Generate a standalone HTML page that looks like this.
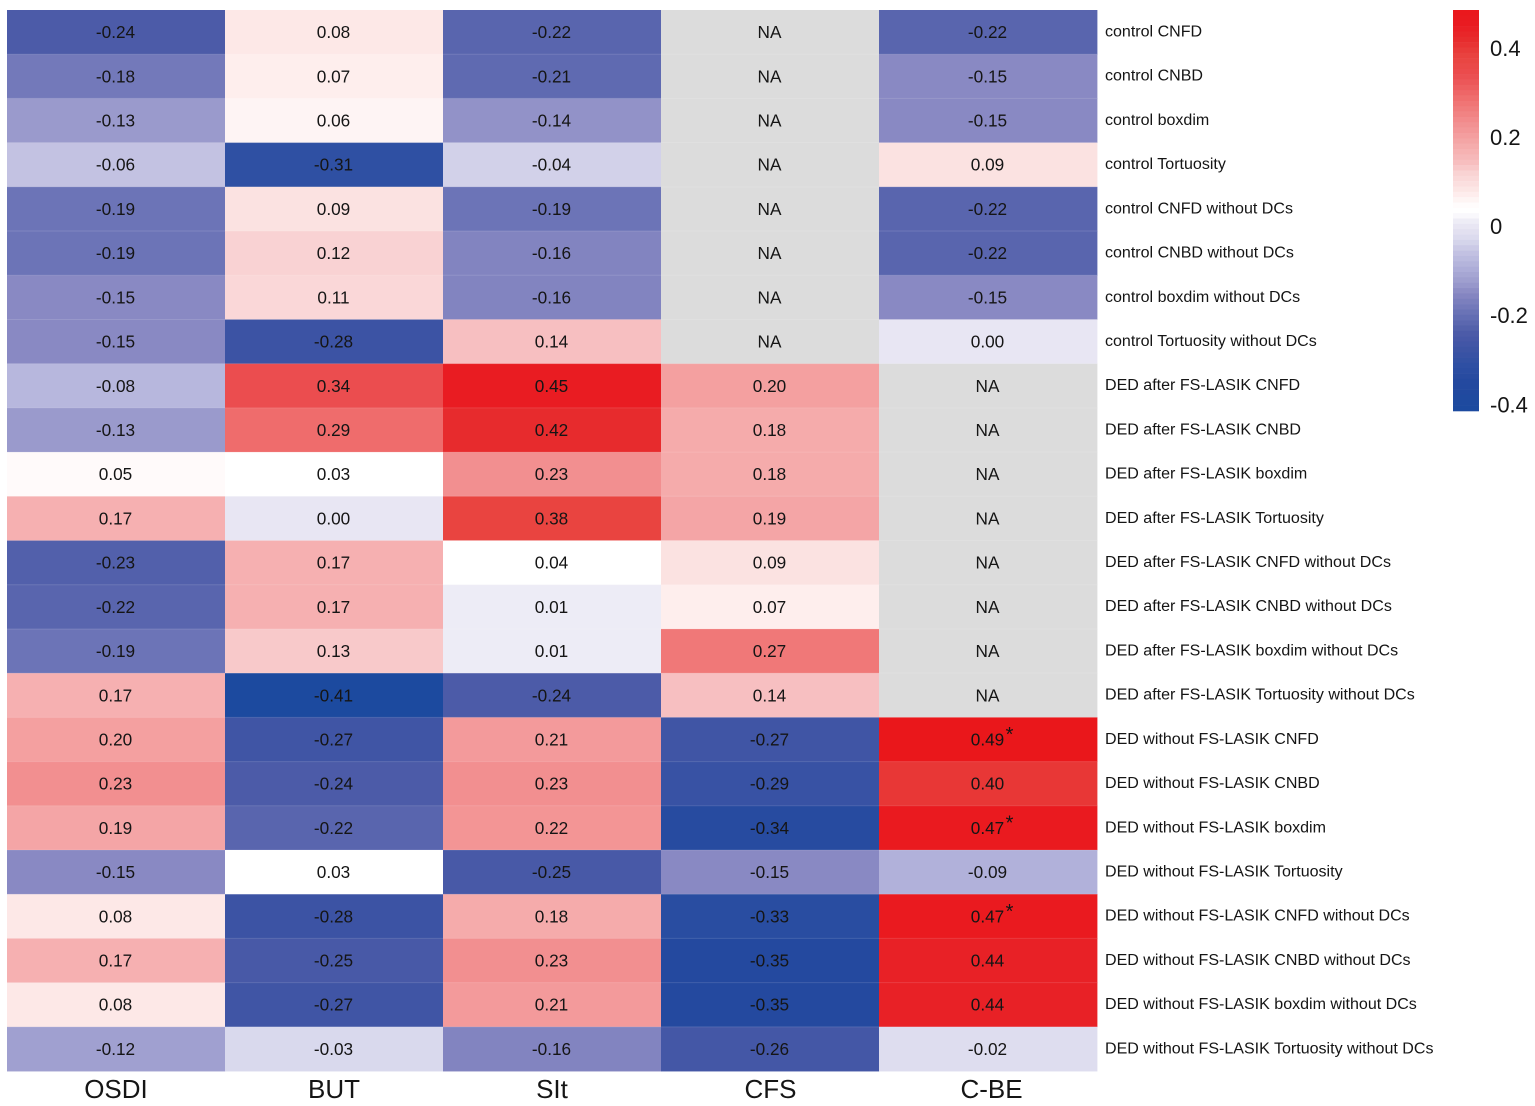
<!DOCTYPE html>
<html lang="en">
<head>
<meta charset="utf-8">
<title>Correlation heatmap</title>
<style>
html,body{margin:0;padding:0;background:#fff;}
svg{display:block;}
text{font-family:"Liberation Sans",Arial,sans-serif;fill:#151515;}
</style>
</head>
<body>
<svg id="chart" width="1535" height="1106" viewBox="0 0 1535 1106" xmlns="http://www.w3.org/2000/svg"></svg>
<script>
const columns = ["OSDI", "BUT", "SIt", "CFS", "C-BE"];
const rowLabels = [
  "control CNFD", "control CNBD", "control boxdim", "control Tortuosity",
  "control CNFD without DCs", "control CNBD without DCs", "control boxdim without DCs", "control Tortuosity without DCs",
  "DED after FS-LASIK CNFD", "DED after FS-LASIK CNBD", "DED after FS-LASIK boxdim", "DED after FS-LASIK Tortuosity",
  "DED after FS-LASIK CNFD without DCs", "DED after FS-LASIK CNBD without DCs", "DED after FS-LASIK boxdim without DCs", "DED after FS-LASIK Tortuosity without DCs",
  "DED without FS-LASIK CNFD", "DED without FS-LASIK CNBD", "DED without FS-LASIK boxdim", "DED without FS-LASIK Tortuosity",
  "DED without FS-LASIK CNFD without DCs", "DED without FS-LASIK CNBD without DCs", "DED without FS-LASIK boxdim without DCs", "DED without FS-LASIK Tortuosity without DCs"
];
const osdiValues = [-0.24,-0.18,-0.13,-0.06,-0.19,-0.19,-0.15,-0.15,-0.08,-0.13,0.05,0.17,-0.23,-0.22,-0.19,0.17,0.20,0.23,0.19,-0.15,0.08,0.17,0.08,-0.12];
const butValues = [0.08,0.07,0.06,-0.31,0.09,0.12,0.11,-0.28,0.34,0.29,0.03,0.00,0.17,0.17,0.13,-0.41,-0.27,-0.24,-0.22,0.03,-0.28,-0.25,-0.27,-0.03];
const sitValues = [-0.22,-0.21,-0.14,-0.04,-0.19,-0.16,-0.16,0.14,0.45,0.42,0.23,0.38,0.04,0.01,0.01,-0.24,0.21,0.23,0.22,-0.25,0.18,0.23,0.21,-0.16];
const cfsValues = [null,null,null,null,null,null,null,null,0.20,0.18,0.18,0.19,0.09,0.07,0.27,0.14,-0.27,-0.29,-0.34,-0.15,-0.33,-0.35,-0.35,-0.26];
const cbeValues = [-0.22,-0.15,-0.15,0.09,-0.22,-0.22,-0.15,0.00,null,null,null,null,null,null,null,null,0.49,0.40,0.47,-0.09,0.47,0.44,0.44,-0.02];
const cbeSignificant = [false,false,false,false,false,false,false,false,false,false,false,false,false,false,false,false,true,false,true,false,true,false,false,false];
const colorbarTicks = [0.4, 0.2, 0, -0.2, -0.4];

const series = [osdiValues, butValues, sitValues, cfsValues, cbeValues];

/* colour scale */
const scaleDomain = [-0.41,-0.35,-0.31,-0.28,-0.24,-0.19,-0.15,-0.13,-0.09,-0.06,-0.03,0,0.01,0.03,0.04,0.05,0.08,0.09,0.12,0.14,0.18,0.23,0.27,0.34,0.38,0.42,0.45,0.49];
const scaleColors = ["#1c4a9f","#24499f","#2f50a3","#3c53a4","#4c5ba8","#6c74b7","#8989c3","#9a9acc","#b1b1da","#c3c2e2","#d9d9ed","#e8e6f3","#edecf6","#ffffff","#ffffff","#fffafa","#fde8e7","#fbe2e1","#f9d2d3","#f7bfc1","#f5abab","#f28f90","#f07878","#eb4d4f","#e94440","#e72b2d","#e91c22","#ea171b"];
function hexToRgb(h){return [1,3,5].map(function(i){return parseInt(h.substr(i,2),16);});}
function colorScale(v){
  if(v<=scaleDomain[0]) return scaleColors[0];
  for(let i=1;i<scaleDomain.length;i++){
    if(v<=scaleDomain[i]){
      const t=(v-scaleDomain[i-1])/(scaleDomain[i]-scaleDomain[i-1]);
      const a=hexToRgb(scaleColors[i-1]), b=hexToRgb(scaleColors[i]);
      return "rgb("+a.map(function(c,k){return Math.round(c+(b[k]-c)*t);}).join(",")+")";
    }
  }
  return scaleColors[scaleColors.length-1];
}

/* axis functions */
const gridLeft=7, gridTop=10, cellW=218, cellH=44.21;
function xAxis(c){return gridLeft+c*cellW;}
function yAxis(r){return gridTop+r*cellH;}
const barTop=10, barBottom=411, barLeft=1453, barRight=1479;
const barMax=0.485, barMin=-0.415;
function barY(v){return barTop+(barMax-v)/(barMax-barMin)*(barBottom-barTop);}

const NS="http://www.w3.org/2000/svg";
const svg=document.getElementById("chart");
function make(tag,attrs,parent,txt){
  const el=document.createElementNS(NS,tag);
  for(const k in attrs){el.setAttribute(k,attrs[k]);}
  if(txt!==undefined){el.textContent=txt;}
  (parent||svg).appendChild(el);
  return el;
}

/* cells */
series.forEach(function(vals,c){
  vals.forEach(function(v,r){
    const isNA=v===null;
    const cell=make("rect",{x:xAxis(c),y:yAxis(r),width:cellW+0.4,height:cellH+0.4,fill:isNA?"#dcdcdc":colorScale(v)});
    
    
  });
});
/* faint seams between rows */
rowLabels.forEach(function(t,r){
  if(r===0){return;}
  const seam=make("line",{x1:gridLeft,x2:xAxis(columns.length),y1:yAxis(r),y2:yAxis(r),stroke:"#ffffff","stroke-opacity":"0.13","stroke-width":"1"});
  
  
});
/* cell text */
series.forEach(function(vals,c){
  vals.forEach(function(v,r){
    const cx=xAxis(c)+cellW/2-0.5;
    const label=make("text",{x:cx,y:yAxis(r)+cellH/2+6,"text-anchor":"middle","font-size":"17.2"},svg,v===null?"NA":v.toFixed(2));
    
    
  });
});
cbeValues.forEach(function(v,r){
  if(cbeSignificant[r]){
    const star=make("text",{x:xAxis(4)+cellW/2+21.5,y:yAxis(r)+cellH/2+1.5,"text-anchor":"middle","font-size":"20"},svg,"*");
    
    
  }
});

/* row labels */
rowLabels.forEach(function(t,r){
  const label=make("text",{x:1105,y:yAxis(r)+cellH/2+4.4,"font-size":"16.05"},svg,t);
  
  
});

/* column labels */
const columnNudge=[0,0,0,0.5,3.5];
columns.forEach(function(t,c){
  const label=make("text",{x:xAxis(c)+cellW/2+columnNudge[c],y:1098,"text-anchor":"middle","font-size":"26"},svg,t);
  
  
});

/* colour bar */
const bandCount=75;
for(let i=0;i<bandCount;i++){
  const v0=barMax-(barMax-barMin)*i/bandCount;
  const v1=barMax-(barMax-barMin)*(i+1)/bandCount;
  const band=make("rect",{x:barLeft,y:barY(v0),width:barRight-barLeft,height:barY(v1)-barY(v0)+0.3,fill:colorScale((v0+v1)/2)});
  
  
}
colorbarTicks.forEach(function(v){
  const tick=make("text",{x:1490,y:barY(v)+8,"font-size":"22"},svg,String(v));
  
  
});
</script>
</body>
</html>
